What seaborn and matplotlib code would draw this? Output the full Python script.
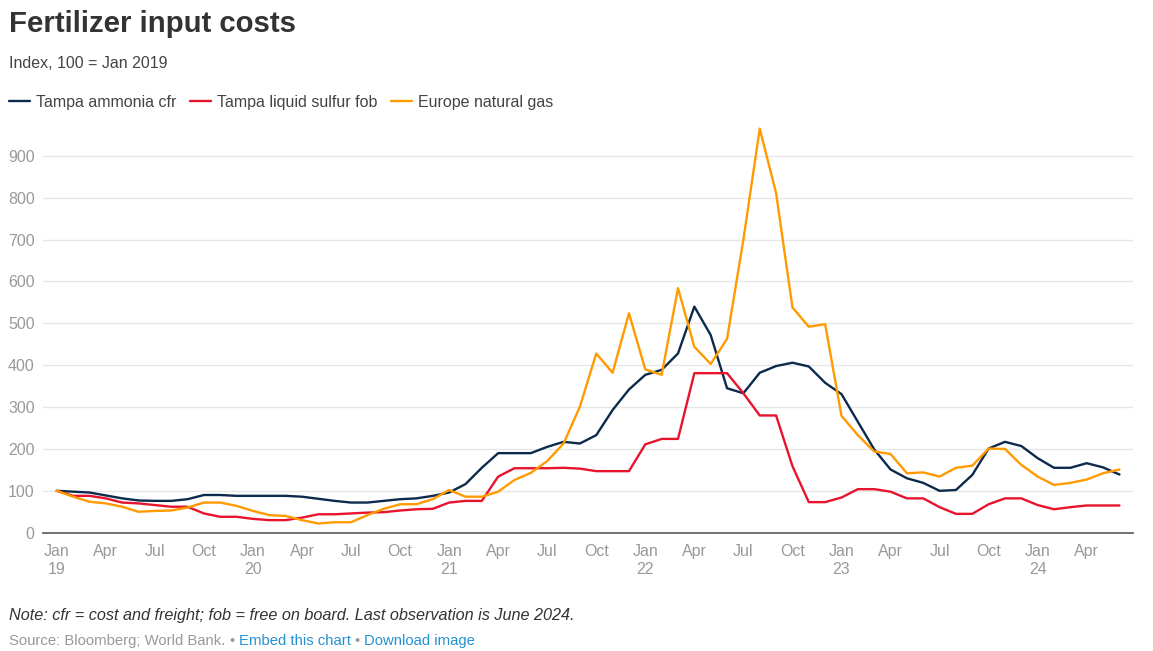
import numpy as np
import pandas as pd
import matplotlib
matplotlib.use("Agg")
import matplotlib.pyplot as plt
import seaborn as sns

# Index, 100 = Jan 2019, monthly from Jan 2019 to Jun 2024
months = pd.date_range("2019-01-01", "2024-06-01", freq="MS")

ammonia = [100, 98, 96, 89, 82, 77, 76, 76, 80, 90, 90, 88,
           88, 88, 88, 86, 81, 76, 72, 72, 76, 80, 82, 88,
           96, 116, 155, 190, 190, 190, 205, 217, 213, 233, 293, 342,
           377, 389, 428, 540, 472, 345, 333, 382, 398, 406, 397, 358,
           331, 265, 199, 151, 130, 119, 100, 102, 138, 201, 217, 207,
           178, 155, 155, 166, 156, 139]

sulfur = [100, 88, 88, 82, 72, 70, 66, 62, 62, 46, 38, 38,
          33, 30, 30, 36, 44, 44, 46, 48, 49, 53, 56, 57,
          72, 76, 76, 134, 154, 154, 154, 155, 153, 147, 147, 147,
          211, 224, 224, 381, 381, 381, 333, 280, 280, 159, 73, 73,
          84, 104, 104, 98, 82, 82, 61, 45, 45, 68, 82, 82,
          66, 56, 61, 65, 65, 65]

gas = [100, 86, 74, 70, 62, 50, 52, 53, 60, 72, 72, 64,
       52, 42, 40, 30, 22, 25, 25, 42, 57, 68, 68, 80,
       102, 86, 86, 98, 126, 143, 171, 213, 301, 428, 382, 524,
       390, 377, 584, 444, 403, 463, 700, 965, 811, 538, 492, 498,
       279, 233, 194, 188, 142, 144, 134, 155, 160, 201, 200, 162,
       134, 114, 119, 127, 142, 151]

series_names = ["Tampa ammonia cfr", "Tampa liquid sulfur fob", "Europe natural gas"]
colors = {"Tampa ammonia cfr": "#0c2a4c",
          "Tampa liquid sulfur fob": "#e8132d",
          "Europe natural gas": "#ff9a00"}

df = pd.DataFrame({"month": np.arange(len(months)),
                   "Tampa ammonia cfr": ammonia,
                   "Tampa liquid sulfur fob": sulfur,
                   "Europe natural gas": gas})
long = df.melt(id_vars="month", var_name="series", value_name="value")

sns.set_style("white")
plt.rcParams["font.family"] = ["Liberation Sans", "DejaVu Sans"]

W, H = 1153, 651
fig = plt.figure(figsize=(W / 100, H / 100), dpi=100)
ax = fig.add_axes([43 / W, 1 - 532.7 / H, (1133 - 43) / W, (532.7 - 114) / H])

sns.lineplot(data=long, x="month", y="value", hue="series", hue_order=series_names,
             palette=colors, linewidth=1.7, ax=ax)
handles, labels = ax.get_legend_handles_labels()
ax.get_legend().remove()

# axes
ax.set_xlim(-0.84, 65.83)
ax.set_ylim(0, 1000)
ax.set_yticks(range(0, 1000, 100))
tick_pos = list(range(0, 66, 3))
tick_lab = []
for p in tick_pos:
    d = months[p]
    if d.month == 1:
        tick_lab.append(d.strftime("%b") + "\n" + d.strftime("%y"))
    else:
        tick_lab.append(d.strftime("%b"))
ax.set_xticks(tick_pos)
ax.set_xticklabels(tick_lab, linespacing=1.3)
ax.tick_params(axis="both", length=0, labelsize=11.5, labelcolor="#999999")
ax.tick_params(axis="x", pad=8)
ax.tick_params(axis="y", pad=6)
ax.set_xlabel("")
ax.set_ylabel("")
ax.yaxis.grid(True, color="#e6e6e6", linewidth=1)
ax.xaxis.grid(False)
for s in ["top", "right", "left"]:
    ax.spines[s].set_visible(False)
ax.spines["bottom"].set_color("#666666")
ax.spines["bottom"].set_linewidth(1.3)
ax.set_axisbelow(True)

# title block
fig.text(9 / W, 1 - 31.7 / H, "Fertilizer input costs", fontsize=21.2, fontweight="bold",
         color="#333333", va="baseline", ha="left")
fig.text(9 / W, 1 - 68.3 / H, "Index, 100 = Jan 2019", fontsize=11.5, color="#444444",
         va="baseline", ha="left")

fig.legend(handles, labels, loc="center left", bbox_to_anchor=(9 / W, 1 - 102 / H),
           ncol=3, frameon=False, fontsize=11.5, handlelength=1.3, handletextpad=0.4,
           columnspacing=0.85, borderpad=0, borderaxespad=0, labelcolor="#444444")

# footer
fig.text(9 / W, 1 - 620 / H, "Note: cfr = cost and freight; fob = free on board. "
         "Last observation is June 2024.", fontsize=11.7, style="italic", color="#333333",
         va="baseline", ha="left")

# source line: pieces laid out one after another
renderer = fig.canvas.get_renderer()
pieces = [("Source: Bloomberg; World Bank.", "#999999"),
          ("\u2022", "#999999"),
          ("Embed this chart", "#2491d3"),
          ("\u2022", "#999999"),
          ("Download image", "#2491d3")]
x_px = 9
for txt, col in pieces:
    t = fig.text(x_px / W, 1 - 645 / H, txt, fontsize=10.7, color=col,
                 va="baseline", ha="left")
    x_px += t.get_window_extent(renderer).width + 4

fig.savefig("out.png", dpi=100)
